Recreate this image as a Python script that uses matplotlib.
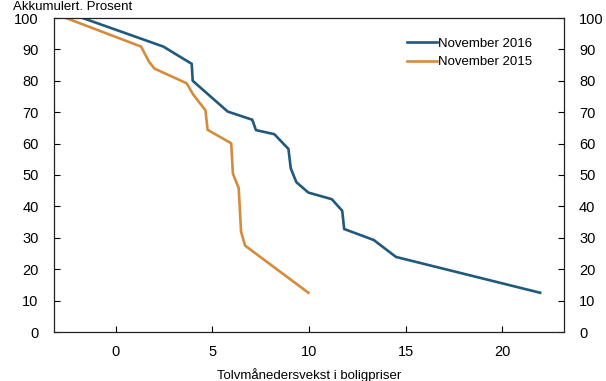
import matplotlib
matplotlib.use("Agg")
import matplotlib.pyplot as plt

plt.rcParams['font.family'] = ['Liberation Sans', 'DejaVu Sans']

# Data
x_2016 = [-1.7, 2.47, 3.94, 3.99, 5.8, 7.07, 7.26, 8.21, 8.94, 9.06, 9.35, 9.97, 11.18, 11.72, 11.82, 13.35, 14.5, 21.95]
y_2016 = [100, 90.9, 85.4, 80.0, 70.2, 67.6, 64.3, 63.0, 58.3, 52.1, 47.7, 44.4, 42.3, 38.6, 32.8, 29.3, 23.9, 12.5]
x_2015 = [-2.56, 1.32, 1.73, 2.01, 3.68, 4.02, 4.65, 4.76, 5.98, 6.07, 6.37, 6.49, 6.70, 9.97]
y_2015 = [100, 90.9, 86.1, 83.9, 79.2, 75.6, 70.6, 64.4, 60.1, 50.4, 45.8, 31.9, 27.5, 12.5]
labels = ["November 2016", "November 2015"]
xticks = [0, 5, 10, 15, 20]
yticks = [0, 10, 20, 30, 40, 50, 60, 70, 80, 90, 100]
xlabel = "Tolvmånedersvekst i boligpriser"
ytitle = "Akkumulert. Prosent"

blue = "#1f5a7c"
orange = "#d58b3c"

fig = plt.figure(figsize=(6.06, 3.81), dpi=100)
ax = fig.add_axes([54/606, 1-332/381, (563.7-54)/606, (332-18)/381])

ax.plot(x_2016, y_2016, color=blue, lw=1.9, label=labels[0], solid_joinstyle='round')
ax.plot(x_2015, y_2015, color=orange, lw=1.9, label=labels[1], solid_joinstyle='round')

ax.set_xlim(-3.18, 23.17)
ax.set_ylim(0, 100)
ax.set_xticks(xticks)
ax.set_yticks(yticks)
ax.tick_params(axis='y', direction='in', length=4, width=0.8, pad=11,
               labelsize=10.5, left=True, right=True, labelleft=True, labelright=True)
ax.tick_params(axis='x', direction='in', length=4, width=0.8, pad=9, labelsize=10.5)
for s in ax.spines.values():
    s.set_linewidth(0.9)
    s.set_color("#222222")

leg = ax.legend(loc='upper right', bbox_to_anchor=(0.949, 0.955), frameon=False,
                fontsize=9.5, handlelength=2.3, handletextpad=0.1, labelspacing=0.5,
                borderaxespad=0)

fig.text(13/606, 1-1/381, ytitle, fontsize=9.5, ha='left', va='top')
fig.text(309/606, 2/381, xlabel, fontsize=9.5, ha='center', va='baseline')

fig.savefig("out.png", dpi=100)
